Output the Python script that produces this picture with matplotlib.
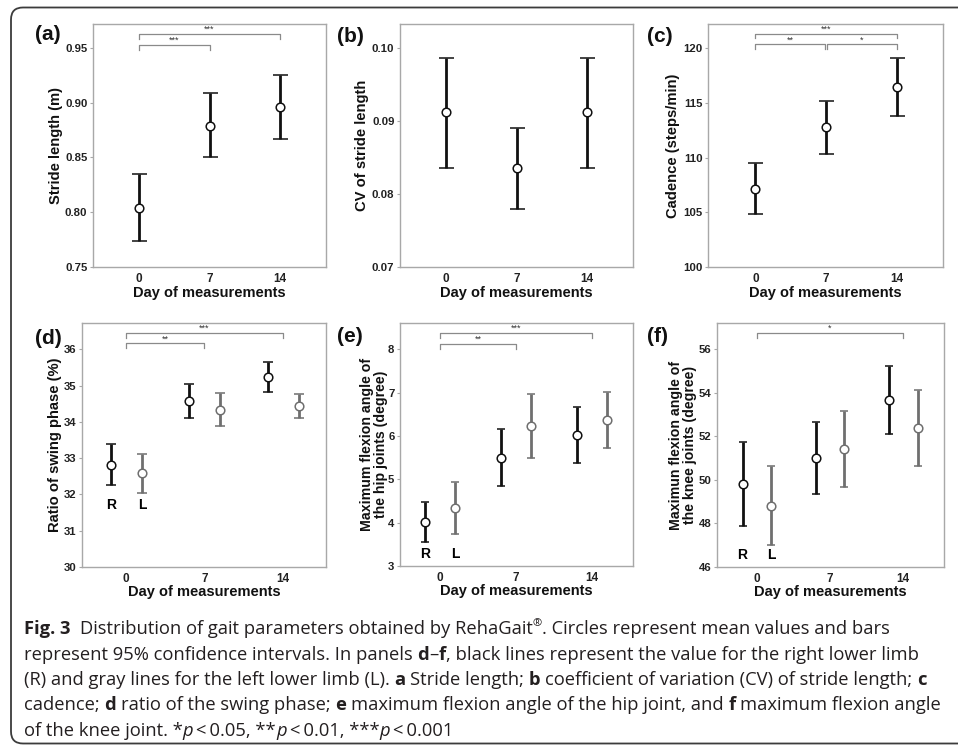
import matplotlib
matplotlib.use("Agg")
import numpy as np
import matplotlib.pyplot as plt
from matplotlib.patches import FancyBboxPatch

plt.rcParams['font.family'] = ['Liberation Sans', 'DejaVu Sans']

days = [0, 7, 14]

# (a) stride length, (b) CV of stride length, (c) cadence
stride_mean = [0.804, 0.879, 0.896]
stride_lo = [0.774, 0.850, 0.867]
stride_hi = [0.835, 0.909, 0.925]

cv_mean = [0.0912, 0.0835, 0.0912]
cv_lo = [0.0836, 0.0779, 0.0836]
cv_hi = [0.0987, 0.0891, 0.0987]

cad_mean = [107.15, 112.75, 116.4]
cad_lo = [104.8, 110.3, 113.8]
cad_hi = [109.5, 115.2, 119.05]

# (d) swing phase, (e) hip flexion, (f) knee flexion -- right (R) and left (L)
swing_r_mean = [32.82, 34.58, 35.24]
swing_r_lo = [32.25, 34.12, 34.82]
swing_r_hi = [33.38, 35.05, 35.65]
swing_l_mean = [32.58, 34.34, 34.44]
swing_l_lo = [32.03, 33.88, 34.10]
swing_l_hi = [33.12, 34.80, 34.78]

hip_r_mean = [4.01, 5.50, 6.03]
hip_r_lo = [3.55, 4.84, 5.38]
hip_r_hi = [4.48, 6.16, 6.66]
hip_l_mean = [4.33, 6.23, 6.36]
hip_l_lo = [3.73, 5.50, 5.73]
hip_l_hi = [4.94, 6.97, 7.01]

knee_r_mean = [49.80, 51.00, 53.68]
knee_r_lo = [47.88, 49.35, 52.13]
knee_r_hi = [51.73, 52.67, 55.23]
knee_l_mean = [48.82, 51.40, 52.37]
knee_l_lo = [47.02, 49.68, 50.63]
knee_l_hi = [50.64, 53.17, 54.12]

# significance brackets: (from, to, height, label)
sig_a = [(0, 7, 0.9527, '***'), (0, 14, 0.9628, '***')]
sig_c = [(0, 6.9, 120.33, '**'), (7.1, 14, 120.33, '*'), (0, 14, 121.33, '***')]
sig_d = [(0, 7, 36.17, '**'), (0, 14, 36.46, '***')]
sig_e = [(0, 7, 8.13, '**'), (0, 14, 8.38, '***')]
sig_f = [(0, 14, 56.76, '*')]

BLACK = '#111111'
GRAY = '#6f6f6f'
W, H = 958, 747

fig = plt.figure(figsize=(W / 100, H / 100), dpi=100)

# background layer in pixel units for frame, panel letters and caption
bg = fig.add_axes([0, 0, 1, 1], zorder=0)
bg.set_xlim(0, W)
bg.set_ylim(H, 0)
bg.axis('off')
bg.add_patch(FancyBboxPatch((11, 7.5), 1000, 736, boxstyle='round,pad=0,rounding_size=12',
                            fc='white', ec='#3c3c3c', lw=1.3, clip_on=False))


def px_axes(l, t, r, b):
    return fig.add_axes([l / W, 1 - b / H, (r - l) / W, (b - t) / H], zorder=1)


def setup(ax, xlim, ylim, yticks, fmt, ylabel, ylab_x, xlab_y, ylab_size=10.6):
    ax.set_xlim(*xlim)
    ax.set_ylim(*ylim)
    ax.set_yticks(yticks)
    ax.set_yticklabels([fmt.format(v) for v in yticks])
    ax.set_xticks(days)
    ax.set_xticklabels([str(d) for d in days])
    for s in ax.spines.values():
        s.set_color('#a8a8a8')
        s.set_linewidth(1.0)
    ax.tick_params(axis='y', length=2.5, width=0.8, color='#a8a8a8', pad=1.5, labelsize=8.2)
    ax.tick_params(axis='x', length=0, pad=4.5, labelsize=8.5)
    for lab in ax.get_xticklabels() + ax.get_yticklabels():
        lab.set_fontweight('bold')
        lab.set_color('#222222')
    ax.text(0.5, xlab_y, 'Day of measurements', transform=ax.transAxes, ha='center',
            va='center', fontsize=10.5, fontweight='bold', color='#111111')
    ax.text(ylab_x, 0.5, ylabel, transform=ax.transAxes, rotation=90, ha='center',
            va='center', fontsize=ylab_size, fontweight='bold', color='#111111', linespacing=1.0)


def bars(ax, x, mean, lo, hi, color, cap):
    mean, lo, hi = np.array(mean), np.array(lo), np.array(hi)
    ax.errorbar(x, mean, yerr=[mean - lo, hi - mean], fmt='o', ms=6.2, mfc='white', mec=color,
                mew=1.1, ecolor=color, elinewidth=2.0, capsize=cap, capthick=2.0, zorder=3)


def brackets(ax, sigs):
    y0, y1 = ax.get_ylim()
    leg = 0.02 * (y1 - y0)
    for x1, x2, y, lab in sigs:
        ax.plot([x1, x1, x2, x2], [y - leg, y, y, y - leg], color='#8a8a8a', lw=0.9,
                clip_on=False, zorder=2)
        ax.text((x1 + x2) / 2, y, lab, ha='center', va='bottom', fontsize=6.5, color='#333333')


def rl_labels(ax, y, dr, dl):
    ax.text(days[0] + dr, y, 'R', ha='center', va='center', fontsize=10, fontweight='bold')
    ax.text(days[0] + dl, y, 'L', ha='center', va='center', fontsize=10, fontweight='bold')


DR, DL = -1.35, 1.42

# ---- row 1 ----
ax_a = px_axes(93, 24, 326, 267)
setup(ax_a, (-4.6, 18.6), (0.75, 0.9716), [0.75, 0.80, 0.85, 0.90, 0.95], '{:.2f}',
      'Stride length (m)', -0.158, -0.107)
bars(ax_a, days, stride_mean, stride_lo, stride_hi, BLACK, 5.4)
brackets(ax_a, sig_a)

ax_b = px_axes(400, 24, 633, 267)
setup(ax_b, (-4.6, 18.6), (0.07, 0.1033), [0.07, 0.08, 0.09, 0.10], '{:.2f}',
      'CV of stride length', -0.163, -0.107)
bars(ax_b, days, cv_mean, cv_lo, cv_hi, BLACK, 5.4)

ax_c = px_axes(708, 24, 943, 267)
setup(ax_c, (-4.7, 18.6), (100, 122.2), [100, 105, 110, 115, 120], '{:.0f}',
      'Cadence (steps/min)', -0.148, -0.107)
bars(ax_c, days, cad_mean, cad_lo, cad_hi, BLACK, 5.4)
brackets(ax_c, sig_c)

# ---- row 2 ----
xr = [d + DR for d in days]
xl = [d + DL for d in days]

ax_d = px_axes(82, 323, 326, 567)
setup(ax_d, (-3.93, 17.87), (30, 36.73), [30, 31, 32, 33, 34, 35, 36], '{:.0f}',
      'Ratio of swing phase (%)', -0.11, -0.101)
bars(ax_d, xr, swing_r_mean, swing_r_lo, swing_r_hi, BLACK, 3.4)
bars(ax_d, xl, swing_l_mean, swing_l_lo, swing_l_hi, GRAY, 3.4)
brackets(ax_d, sig_d)
rl_labels(ax_d, 31.72, DR, DL)

ax_e = px_axes(400, 323, 633, 566)
setup(ax_e, (-3.69, 17.8), (3, 8.61), [3, 4, 5, 6, 7, 8], '{:.0f}',
      'Maximum flexion angle of\nthe hip joints (degree)', -0.112, -0.101, ylab_size=10.2)
bars(ax_e, xr, hip_r_mean, hip_r_lo, hip_r_hi, BLACK, 3.2)
bars(ax_e, xl, hip_l_mean, hip_l_lo, hip_l_hi, GRAY, 3.2)
brackets(ax_e, sig_e)
rl_labels(ax_e, 3.27, DR, DL)

ax_f = px_axes(717, 323, 944, 567)
setup(ax_f, (-3.8, 17.96), (46, 57.21), [46, 48, 50, 52, 54, 56], '{:.0f}',
      'Maximun flexion angle of\nthe knee joints (degree)', -0.150, -0.101, ylab_size=10.2)
bars(ax_f, xr, knee_r_mean, knee_r_lo, knee_r_hi, BLACK, 3.2)
bars(ax_f, xl, knee_l_mean, knee_l_lo, knee_l_hi, GRAY, 3.2)
brackets(ax_f, sig_f)
rl_labels(ax_f, 46.55, DR, DL)

# panel letters
for lab, x, y in [('(a)', 48, 34), ('(b)', 350, 37), ('(c)', 660, 37),
                  ('(d)', 48, 339), ('(e)', 350, 337), ('(f)', 658, 337)]:
    bg.text(x, y, lab, ha='center', va='center', fontsize=15, fontweight='bold', color='#111111')

# ---- caption ----
cap_font = ['Open Sans', 'DejaVu Sans']
renderer = fig.canvas.get_renderer()


def run_width(s, size, weight, style):
    t = bg.text(0, 0, s, fontsize=size, fontweight=weight, fontstyle=style, family=cap_font)
    w = t.get_window_extent(renderer).width
    t.remove()
    return w


def draw_line(runs, x0, y, size, draw=True):
    x = x0
    sp = run_width('x x', size, 'normal', 'normal') - run_width('xx', size, 'normal', 'normal')
    for s, kind in runs:
        if kind == 'sp':
            x += sp * s
            continue
        weight = 'bold' if kind == 'b' else 'normal'
        style = 'italic' if kind == 'i' else 'normal'
        fs = size * 0.6 if kind == 'sup' else size
        dy = -size * 1.389 * 0.42 if kind == 'sup' else 0
        if draw:
            bg.text(x, y + dy, s, fontsize=fs, fontweight=weight, fontstyle=style,
                    family=cap_font, va='baseline', ha='left', color='#231f20')
        x += run_width(s, fs, weight, style)
    return x - x0


lines = [
    [('Fig. 3', 'b'), (2, 'sp'), ('Distribution of gait parameters obtained by RehaGait', 'n'),
     ('®', 'sup'), ('. Circles represent mean values and bars', 'n')],
    [('represent 95% confidence intervals. In panels', 'n'), (1, 'sp'), ('d', 'b'), ('–', 'n'),
     ('f', 'b'), (', black lines represent the value for the right lower limb', 'n')],
    [('(R) and gray lines for the left lower limb (L).', 'n'), (1, 'sp'), ('a', 'b'), (1, 'sp'),
     ('Stride length;', 'n'), (1, 'sp'), ('b', 'b'), (1, 'sp'),
     ('coefficient of variation (CV) of stride length;', 'n'), (1, 'sp'), ('c', 'b')],
    [('cadence;', 'n'), (1, 'sp'), ('d', 'b'), (1, 'sp'), ('ratio of the swing phase;', 'n'),
     (1, 'sp'), ('e', 'b'), (1, 'sp'), ('maximum flexion angle of the hip joint, and', 'n'),
     (1, 'sp'), ('f', 'b'), (1, 'sp'), ('maximum flexion angle', 'n')],
    [('of the knee joint. *', 'n'), ('p', 'i'), ('\u2009<\u20090.05, **', 'n'), ('p', 'i'),
     ('\u2009<\u20090.01, ***', 'n'), ('p', 'i'), ('\u2009<\u20090.001', 'n')],
]

x0 = 24
base = 10.0
w4 = draw_line(lines[3], x0, 0, base, draw=False)
cap_size = base * (942 - x0) / w4
for i, runs in enumerate(lines):
    draw_line(runs, x0, 634 + i * 25.5, cap_size)

fig.savefig('out.png', dpi=100)
